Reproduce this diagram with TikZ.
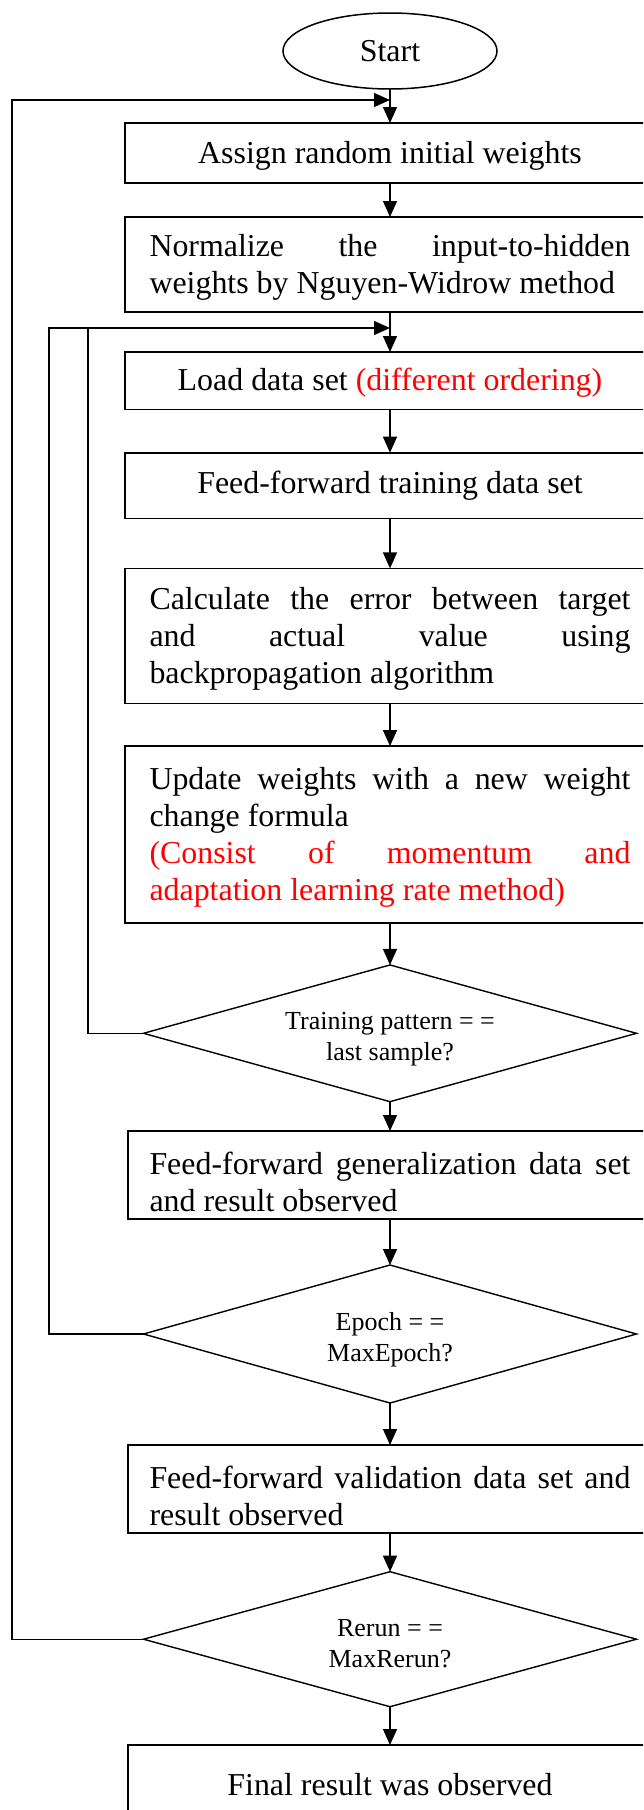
\documentclass[tikz,border=0pt]{standalone}
\usepackage{fontspec}
\setmainfont{Liberation Serif}
\usetikzlibrary{arrows.meta,shapes.geometric}
\hyphenpenalty=10000
\exhyphenpenalty=10000
% invisible first-line strut that pushes a node's text down a little
\newcommand\strutup[1]{\rule{0pt}{#1}}

\begin{document}
\begin{tikzpicture}[x=1pt,y=-1pt,
  every node/.style={inner sep=0pt, outer sep=0pt},
  proc/.style={draw, line width=1.7pt, rectangle, font=\fontsize{31.9}{37}\selectfont},
  upper/.style={proc, minimum width=530.6pt},
  lower/.style={proc, minimum width=524pt},
  just/.style={text width=481pt, align=justify},
  terminal/.style={draw, line width=1.5pt, ellipse, minimum width=214pt, minimum height=76pt, font=\fontsize{31.9}{37}\selectfont},
  decide/.style={draw, line width=1.4pt, diamond, aspect=3.6, minimum width=493pt, font=\fontsize{26}{31}\selectfont, align=center},
  flow/.style={line width=1.4pt, -{Triangle[length=16pt,width=14pt]}},
  link/.style={line width=1.4pt}]

\useasboundingbox (0,0) rectangle (643,1810);
\fill[white] (0,0) rectangle (643,1810);
\clip (0,0) rectangle (643,1810);

% process chain
\node[terminal] (start) at (390,51) {Start};
\node[upper, align=center, minimum height=60pt] (b1) at (390,153)
  {\strutup{27.8pt}Assign random initial weights};
\node[upper, just, minimum height=95pt] (b2) at (390,264.5)
  {\strutup{27.8pt}Normalize the input-to-hidden \linebreak weights by Nguyen-Widrow method};
\node[upper, align=center, minimum height=57.6pt] (b3) at (390,380.8)
  {\strutup{26.8pt}Load data set \textcolor{red}{(different ordering)}};
\node[upper, align=center, minimum height=65.8pt] (b4) at (390,485.6) {Feed-forward training data set};
\node[upper, just, minimum height=135pt] (b5) at (390,635.9)
  {\strutup{27.8pt}Calculate the error between target \linebreak and actual value using \linebreak backpropagation algorithm};
\node[upper, just, minimum height=176.7pt] (b6) at (390,834.4)
  {\strutup{27.2pt}Update weights with a new weight \linebreak change formula\\
   \textcolor{red}{(Consist of momentum and \linebreak adaptation learning rate method)}};
\node[decide, minimum height=136.7pt] (d1) at (390,1033.3)
  {\strutup{28.8pt}Training pattern = =\\last sample?};
\node[lower, just, minimum height=88pt] (b7) at (390,1175)
  {\strutup{35.4pt}Feed-forward generalization data set \linebreak and result observed};
\node[decide, minimum height=138pt] (d2) at (390,1334)
  {\strutup{28.8pt}Epoch = =\\MaxEpoch?};
\node[lower, just, minimum height=88pt] (b8) at (390,1489)
  {\strutup{36pt}Feed-forward validation data set and \linebreak result observed};
\node[decide, minimum height=135pt] (d3) at (390,1639.2)
  {\strutup{26pt}Rerun = =\\MaxRerun?};
\node[lower, align=center, minimum height=80pt] (b9) at (390,1785) {Final result was observed};

% main flow
\draw[flow] (start) -- (b1);
\draw[flow] (b1) -- (b2);
\draw[flow] (b2) -- (b3);
\draw[flow] (b3) -- (b4);
\draw[flow] (b4) -- (b5);
\draw[flow] (b5) -- (b6);
\draw[flow] (b6) -- (d1);
\draw[flow] (d1) -- (b7);
\draw[flow] (b7) -- (d2);
\draw[flow] (d2) -- (b8);
\draw[flow] (b8) -- (d3);
\draw[flow] (d3) -- (b9);

% feedback loops
\coordinate (j1) at (390,100);
\coordinate (j2) at (390,328);
\coordinate (railA) at (12,0);
\coordinate (railB) at (49,0);
\coordinate (railC) at (88,0);
\draw[flow] (d3.west) -| (railA |- j1) -- (j1);
\draw[flow] (d2.west) -| (railB |- j2) -- (j2);
\draw[link] (d1.west) -| (railC |- j2);
\end{tikzpicture}
\end{document}
